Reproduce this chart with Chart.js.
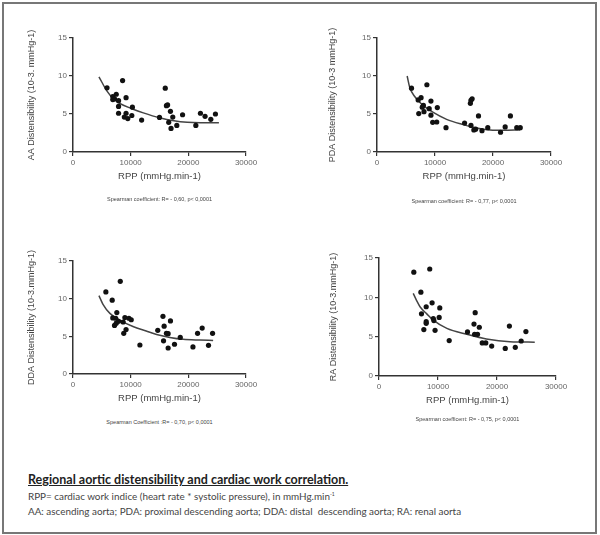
<!DOCTYPE html>
<html>
<head>
<meta charset="utf-8">
<script src="https://cdn.jsdelivr.net/npm/chart.js@4.4.0/dist/chart.umd.min.js"></script>
<style>
  body { margin: 0; background: #fff; }
  #frame { position: absolute; left: 2px; top: 2px; width: 591px; height: 528px; border: 2px solid #777; }
  canvas { position: absolute; }
  .spear { position: absolute; font: 5.5px "Liberation Sans", sans-serif; color: #444; white-space: nowrap; transform: translate(-50%, -50%); }
  .cap { position: absolute; left: 28px; font-family: Lato, sans-serif; white-space: nowrap; }
  #capTitle { top: 472px; font-size: 12.5px; font-weight: bold; color: #222; text-decoration: underline; }
  #capLine1 { top: 490px; font-size: 9.9px; color: #444; }
  #capLine2 { top: 505px; font-size: 9.9px; color: #444; }
  sup { font-size: 5px; }
</style>
</head>
<body>
<div id="frame"></div>
<canvas id="c1"></canvas>
<canvas id="c2"></canvas>
<canvas id="c3"></canvas>
<canvas id="c4"></canvas>
<div class="cap" id="capTitle">Regional aortic distensibility and cardiac work correlation.</div>
<div class="cap" id="capLine1">RPP= cardiac work indice (heart rate * systolic pressure), in mmHg.min<sup>-1</sup></div>
<div class="cap" id="capLine2">AA: ascending aorta; PDA: proximal descending aorta; DDA: distal&nbsp; descending aorta; RA: renal aorta</div>

<script>
// axis ticks
const xTicks = [0, 10000, 20000, 30000];
const yTicks = [0, 5, 10, 15];

// AA
const rppAA = [5900, 6900, 7500, 7200, 6900, 7900, 7900, 7900, 8600, 9200, 8900, 9200, 9500, 10200, 10300, 11900, 15000, 16000, 16200, 16400, 16900, 16600, 17000, 17300, 18000, 19000, 21300, 22100, 22900, 23900, 24700];
const distAA = [8.45, 7.3, 7.6, 7.0, 6.9, 6.75, 6.0, 5.1, 9.4, 7.15, 4.6, 5.1, 4.4, 4.8, 5.9, 4.2, 4.55, 8.4, 6.1, 6.2, 5.35, 3.9, 3.1, 4.6, 3.5, 4.9, 3.5, 5.1, 4.7, 4.3, 5.0];
const fitRppAA = [4500, 5900, 7000, 8200, 10200, 12200, 15000, 17500, 19800, 22100, 25300];
const fitAA = [9.9, 8.0, 7.0, 6.35, 5.7, 5.15, 4.5, 4.1, 3.9, 3.85, 3.85];

// PDA
const rppPDA = [5950, 8600, 7100, 7600, 7200, 8000, 8100, 7800, 9300, 9000, 9300, 9600, 10300, 10400, 11900, 15100, 16200, 16400, 16100, 16200, 16700, 17000, 17500, 18100, 19100, 21300, 22100, 23000, 24100, 24700];
const distPDA = [8.4, 8.85, 6.85, 7.15, 5.05, 6.15, 5.3, 5.9, 6.7, 5.7, 4.85, 3.9, 3.95, 5.85, 3.2, 3.8, 6.8, 7.0, 6.4, 3.5, 2.9, 3.0, 4.75, 2.8, 3.2, 2.6, 3.3, 4.75, 3.2, 3.2];
const fitRppPDA = [5200, 5650, 6500, 7700, 9700, 12000, 14900, 17200, 19500, 21800, 24700];
const fitPDA = [10.0, 8.5, 7.3, 6.3, 5.2, 4.3, 3.6, 3.15, 2.9, 2.85, 2.9];

// DDA
const rppDDA = [5700, 6800, 8200, 7600, 6900, 7400, 7200, 7500, 7900, 9000, 8800, 9200, 8700, 9700, 10100, 11600, 14700, 15600, 15800, 15700, 16200, 16500, 16500, 16900, 17600, 18600, 20800, 21600, 22400, 23500, 24200];
const distDDA = [10.9, 9.8, 12.3, 8.15, 7.45, 7.4, 6.45, 6.75, 7.0, 7.5, 5.4, 5.9, 6.9, 7.4, 7.2, 3.85, 5.8, 7.65, 6.35, 4.4, 5.4, 5.35, 3.45, 7.05, 3.95, 4.85, 3.6, 5.4, 6.1, 3.8, 5.4];
const fitRppDDA = [4500, 5200, 6400, 8100, 10400, 12700, 14500, 16800, 19100, 22000, 24300];
const fitDDA = [10.4, 9.25, 8.05, 7.15, 6.3, 5.7, 5.25, 4.85, 4.6, 4.5, 4.45];

// RA
const rppRA = [5900, 8600, 7100, 9000, 8000, 7200, 10300, 8000, 8000, 7600, 9200, 9300, 10200, 9500, 11900, 15000, 16300, 16100, 16200, 16700, 17000, 17500, 18100, 19100, 21400, 22100, 23100, 24100, 24900];
const distRA = [13.2, 13.6, 10.65, 9.3, 8.8, 7.9, 8.65, 6.9, 6.7, 5.9, 7.3, 7.05, 7.45, 5.8, 4.5, 5.6, 8.05, 6.6, 5.3, 5.3, 6.2, 4.2, 4.2, 3.8, 3.5, 6.35, 3.65, 4.45, 5.65];
const fitRppRA = [5800, 6400, 6950, 8100, 9200, 11500, 14900, 18200, 22200, 26400];
const fitRA = [10.5, 9.55, 8.8, 7.9, 7.1, 6.05, 5.3, 4.7, 4.35, 4.3];

const panels = [
  { id: 'c1', xs: rppAA, ys: distAA, fx: fitRppAA, fy: fitAA,
    yTitle: 'AA Distensibility (10-3. mmHg-1)', spear: 'Spearman coefficient: R= - 0,60, p< 0,0001',
    L: 73, T: 38, R: 246, B: 152, yTitleX: 32, xTitleY: 176, spearY: 199 },
  { id: 'c2', xs: rppPDA, ys: distPDA, fx: fitRppPDA, fy: fitPDA,
    yTitle: 'PDA Distensibility (10-3 mmHg-1)', spear: 'Spearman coefficient: R= - 0,77, p< 0,0001',
    L: 377, T: 38, R: 551, B: 152, yTitleX: 333, xTitleY: 176, spearY: 201 },
  { id: 'c3', xs: rppDDA, ys: distDDA, fx: fitRppDDA, fy: fitDDA,
    yTitle: 'DDA Distensibility (10-3.mmHg-1)', spear: 'Spearman Coefficient :R= - 0,70, p< 0,0001',
    L: 73, T: 261, R: 246, B: 374, yTitleX: 32, xTitleY: 398, spearY: 422 },
  { id: 'c4', xs: rppRA, ys: distRA, fx: fitRppRA, fy: fitRA,
    yTitle: 'RA Distensibility (10-3.mmHg-1)', spear: 'Spearman coefficent: R= - 0,75, p< 0,0001',
    L: 379, T: 258, R: 556, B: 376, yTitleX: 334, xTitleY: 400, spearY: 419 }
];

const axisColor = '#333';
const font = 'Liberation Sans';

panels.forEach(p => {
  const cx = p.L - 60, cy = p.T - 22;
  const cw = (p.R - p.L) + 100, ch = (p.B - p.T) + 22 + 45;
  const canvas = document.getElementById(p.id);
  canvas.style.left = cx + 'px';
  canvas.style.top = cy + 'px';
  canvas.width = cw;
  canvas.height = ch;

  const yTitleOffset = 4 + 9 * 1.2 / 2;
  const xTitleOffset = 4 + 9.5 * 1.2 / 2;
  const yAxisLeft = p.yTitleX - yTitleOffset;
  const xAxisBottom = p.xTitleY + xTitleOffset;

  new Chart(canvas, {
    type: 'scatter',
    data: {
      datasets: [
        {
          data: p.xs.map((x, i) => ({ x: x, y: p.ys[i] })),
          backgroundColor: '#111',
          borderColor: '#111',
          pointRadius: 2.6,
          borderWidth: 0,
          showLine: false
        },
        {
          data: p.fx.map((x, i) => ({ x: x, y: p.fy[i] })),
          showLine: true,
          borderColor: '#444',
          borderWidth: 1.5,
          pointRadius: 0,
          cubicInterpolationMode: 'monotone',
          fill: false
        }
      ]
    },
    options: {
      responsive: false,
      animation: false,
      layout: {
        padding: {
          left: yAxisLeft - cx,
          top: p.T - cy,
          right: (cx + cw) - p.R,
          bottom: (cy + ch) - xAxisBottom
        }
      },
      plugins: { legend: { display: false }, tooltip: { enabled: false } },
      scales: {
        x: {
          type: 'linear', min: 0, max: 30000,
          afterBuildTicks: s => { s.ticks = xTicks.map(v => ({ value: v })); },
          afterFit: s => { s.height = xAxisBottom - p.B; },
          ticks: { color: '#666', font: { family: font, size: 8 }, padding: 2, maxRotation: 0, callback: v => String(v) },
          grid: { drawOnChartArea: false, drawTicks: true, tickLength: 4, color: axisColor, lineWidth: 1.2 },
          border: { display: true, color: axisColor, width: 1.5 },
          title: { display: true, text: 'RPP (mmHg.min-1)', color: '#444', font: { family: font, size: 9.5 }, padding: { top: 2, bottom: 4 } }
        },
        y: {
          type: 'linear', min: 0, max: 15,
          afterBuildTicks: s => { s.ticks = yTicks.map(v => ({ value: v })); },
          afterFit: s => { s.width = p.L - yAxisLeft; },
          ticks: { color: '#666', font: { family: font, size: 8 }, padding: 2, callback: v => String(v) },
          grid: { drawOnChartArea: false, drawTicks: true, tickLength: 4, color: axisColor, lineWidth: 1.2 },
          border: { display: true, color: axisColor, width: 1.5 },
          title: { display: true, text: p.yTitle, color: '#444', font: { family: font, size: 9 }, padding: { top: 4, bottom: 4 } }
        }
      }
    }
  });

  const sp = document.createElement('div');
  sp.className = 'spear';
  sp.textContent = p.spear;
  sp.style.left = ((p.L + p.R) / 2) + 'px';
  sp.style.top = p.spearY + 'px';
  document.body.appendChild(sp);
});
</script>
</body>
</html>
